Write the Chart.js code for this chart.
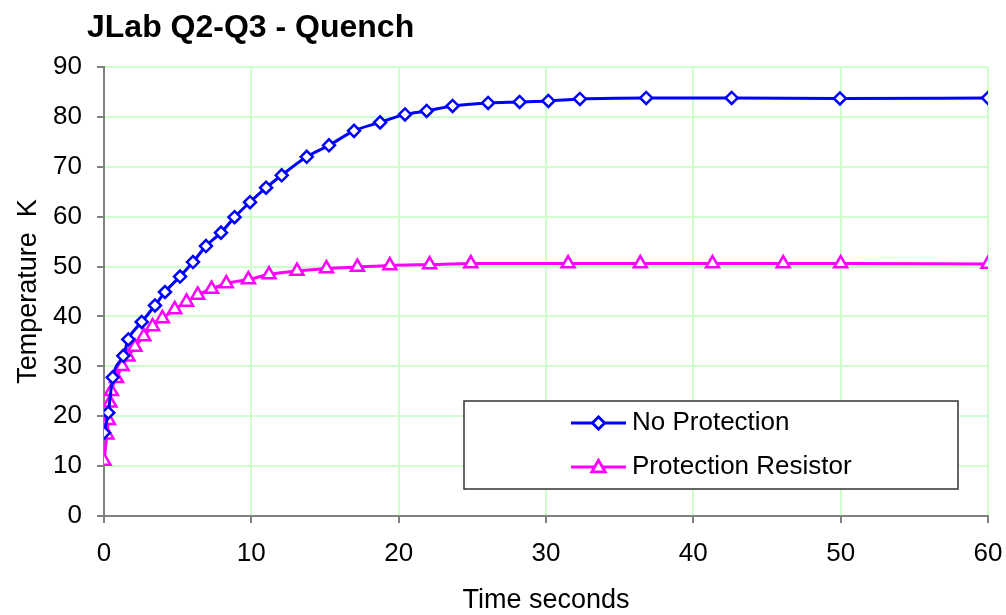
<!DOCTYPE html>
<html>
<head>
<meta charset="utf-8">
<script src="https://cdn.jsdelivr.net/npm/chart.js@4"></script>
<style>
  html, body { margin: 0; padding: 0; background: #ffffff; }
  #wrap { width: 1006px; height: 615px; position: relative; }
</style>
</head>
<body>
<div id="wrap"><canvas id="c" width="1006" height="615"></canvas></div>
<script>
// ---- Data ----
const chartTitle = "JLab Q2-Q3 - Quench";
const xAxisTitle = "Time seconds";
const yAxisTitle = "Temperature  K";
const seriesNames = ["No Protection", "Protection Resistor"];

const timeNoProtection = [0, 0.29, 0.59, 1.31, 1.65, 2.56, 3.46, 4.14, 5.16, 6.04, 6.92, 7.94, 8.86, 9.91,
  11.0, 12.06, 13.76, 15.27, 16.97, 18.74, 20.43, 21.9, 23.66, 26.07, 28.21, 30.16, 32.3, 36.8, 42.6, 49.95, 60];
const tempNoProtection = [16.7, 20.7, 27.8, 32.1, 35.4, 38.9, 42.2, 44.9, 48.0, 50.9, 54.1, 56.8, 59.9, 62.9,
  65.8, 68.3, 72.0, 74.3, 77.2, 78.9, 80.5, 81.2, 82.2, 82.8, 83.0, 83.2, 83.6, 83.8, 83.8, 83.7, 83.8];

const timeResistor = [0, 0.2, 0.3, 0.4, 0.5, 0.85, 1.23, 1.63, 2.1, 2.7, 3.3, 3.96, 4.8, 5.6, 6.36, 7.3, 8.3,
  9.8, 11.2, 13.1, 15.1, 17.2, 19.4, 22.1, 24.9, 31.5, 36.4, 41.3, 46.1, 50, 60];
const tempResistor = [11.0, 16.3, 19.2, 22.7, 25.0, 27.6, 30.0, 31.9, 33.9, 36.0, 38.0, 39.6, 41.4, 42.9, 44.3,
  45.5, 46.6, 47.4, 48.4, 49.1, 49.6, 49.9, 50.2, 50.4, 50.6, 50.6, 50.6, 50.6, 50.6, 50.6, 50.5];

const xTickValues = [0, 10, 20, 30, 40, 50, 60];
const yTickValues = [0, 10, 20, 30, 40, 50, 60, 70, 80, 90];

const toPoints = (xs, ys) => xs.map((x, i) => ({ x: x, y: ys[i] }));

const FONT = "'Liberation Sans', Arial, sans-serif";

// Title plugin (left-aligned like the original)
const titlePlugin = {
  id: 'leftTitle',
  afterDraw(chart) {
    const ctx = chart.ctx;
    ctx.save();
    ctx.font = "bold 32px " + FONT;
    ctx.fillStyle = "#000000";
    ctx.textAlign = "left";
    ctx.textBaseline = "alphabetic";
    ctx.fillText(chartTitle, 87, 37);
    ctx.restore();
  }
};

// Boxed legend inside the plot area
const boxLegendPlugin = {
  id: 'boxLegend',
  afterDatasetsDraw(chart) {
    const ctx = chart.ctx;
    const a = chart.chartArea;
    const bx = a.left + 360, by = a.top + 334, bw = 494, bh = 88;
    ctx.save();
    ctx.fillStyle = "#ffffff";
    ctx.fillRect(bx, by, bw, bh);
    ctx.strokeStyle = "#333333";
    ctx.lineWidth = 1.5;
    ctx.strokeRect(bx, by, bw, bh);
    chart.data.datasets.forEach((ds, i) => {
      const cy = by + 22 + i * 44;
      const lx1 = bx + 107, lx2 = bx + 162;
      ctx.strokeStyle = ds.borderColor;
      ctx.lineWidth = ds.borderWidth;
      ctx.beginPath();
      ctx.moveTo(lx1, cy);
      ctx.lineTo(lx2, cy);
      ctx.stroke();
      Chart.helpers.drawPoint(ctx, {
        pointStyle: ds.pointStyle,
        radius: ds.pointRadius,
        borderWidth: ds.pointBorderWidth,
        rotation: 0
      }, (lx1 + lx2) / 2, cy + (ds.pointStyle === 'triangle' ? 1 : 0));
      ctx.fillStyle = ds.pointBackgroundColor;
      ctx.strokeStyle = ds.borderColor;
      ctx.lineWidth = ds.pointBorderWidth;
      ctx.fill();
      ctx.stroke();
      ctx.fillStyle = "#000000";
      ctx.font = "26px " + FONT;
      ctx.textAlign = "left";
      ctx.textBaseline = "middle";
      ctx.fillText(ds.label, lx2 + 6, cy);
    });
    ctx.restore();
  }
};

new Chart(document.getElementById('c'), {
  type: 'scatter',
  data: {
    datasets: [
      {
        label: seriesNames[0],
        data: toPoints(timeNoProtection, tempNoProtection),
        showLine: true,
        borderColor: '#0000ff',
        backgroundColor: '#0000ff',
        borderWidth: 3,
        pointStyle: 'rectRot',
        pointRadius: 6,
        pointHoverRadius: 6,
        pointBorderWidth: 2.5,
        pointBackgroundColor: '#ffffff',
        pointBorderColor: '#0000ff',
        cubicInterpolationMode: 'monotone'
      },
      {
        label: seriesNames[1],
        data: toPoints(timeResistor, tempResistor),
        showLine: true,
        borderColor: '#ff00ff',
        backgroundColor: '#ff00ff',
        borderWidth: 3,
        pointStyle: 'triangle',
        pointRadius: 7.5,
        pointHoverRadius: 7.5,
        pointBorderWidth: 2.5,
        pointBackgroundColor: '#ffffff',
        pointBorderColor: '#ff00ff',
        cubicInterpolationMode: 'monotone'
      }
    ]
  },
  options: {
    responsive: false,
    animation: false,
    events: [],
    layout: { padding: { left: 0, top: 67, right: 18, bottom: 0 } },
    plugins: {
      legend: { display: false },
      title: { display: false },
      tooltip: { enabled: false }
    },
    scales: {
      x: {
        type: 'linear',
        min: 0, max: 60,
        afterBuildTicks(scale) { scale.ticks = xTickValues.map(v => ({ value: v })); },
        afterFit(scale) {
          scale.height = 99;
          scale.paddingLeft = 0;
          scale.paddingRight = 0;
        },
        ticks: {
          font: { family: FONT, size: 26 },
          color: '#000000',
          padding: 15,
          maxRotation: 0
        },
        grid: { color: '#ccffcc', lineWidth: 2, tickColor: '#000000', tickLength: 7, tickWidth: 1 },
        border: { color: '#808080', width: 2 },
        title: {
          display: true, text: xAxisTitle,
          font: { family: FONT, size: 27, lineHeight: 1.05 }, color: '#000000',
          padding: { top: 0, bottom: 0 }
        }
      },
      y: {
        type: 'linear',
        min: 0, max: 90,
        afterBuildTicks(scale) { scale.ticks = yTickValues.map(v => ({ value: v })); },
        afterFit(scale) {
          scale.width = 104;
          scale.paddingTop = 0;
          scale.paddingBottom = 0;
        },
        ticks: {
          font: { family: FONT, size: 26 },
          color: '#000000',
          padding: 15
        },
        grid: { color: '#ccffcc', lineWidth: 2, tickColor: '#000000', tickLength: 7, tickWidth: 1 },
        border: { color: '#808080', width: 2 },
        title: {
          display: true, text: yAxisTitle,
          font: { family: FONT, size: 27 }, color: '#000000',
          padding: { top: 12, bottom: 0 }
        }
      }
    }
  },
  plugins: [titlePlugin, boxLegendPlugin]
});
</script>
</body>
</html>
